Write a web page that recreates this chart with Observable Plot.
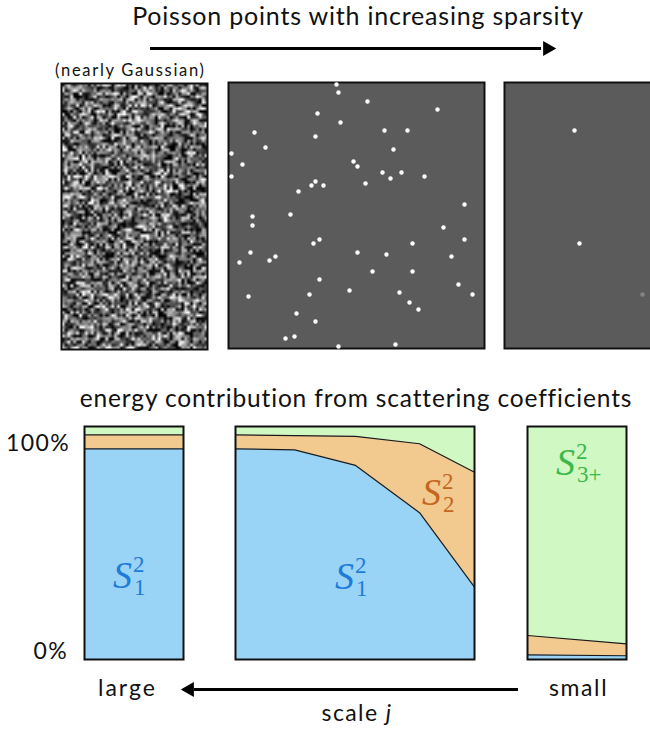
<!DOCTYPE html>
<html><head><meta charset="utf-8">
<script src="https://cdn.jsdelivr.net/npm/d3@7"></script>
<script src="https://cdn.jsdelivr.net/npm/@observablehq/plot@0.6"></script>
<style>
body{margin:0;background:#fff;}
#fig{position:relative;width:650px;height:729px;overflow:hidden;font-family:Lato,sans-serif;color:#111;}
.t{position:absolute;white-space:nowrap;line-height:1;}
.m{position:absolute;white-space:nowrap;line-height:1;font-family:"Liberation Serif","DejaVu Serif",serif;}
</style></head><body><div id="fig"></div>
<script>
// ---- texts ----
const TITLE = "Poisson points with increasing sparsity";
const SUBTITLE = "energy contribution from scattering coefficients";
const NOTE = "(nearly Gaussian)";
const yTickLabels = ["100%", "0%"];
const scaleEnds = ["large", "small"];
const scaleTitle = ["scale ", "j"];

// ---- stacked energy shares (percent) ----
const layers = ["S1", "S2", "S3"];
const layerFill = ["#99d3f6", "#f2c98f", "#d0f8c2"];
const layerText = ["#1f7bd8", "#c4661f", "#3ab84a"];

const largeX = [0, 1];
const largeS1 = [90.4, 90.4];
const largeS2 = [6.0, 6.0];

const midX = [0, 0.99, 2.01, 3.08, 4];
const midS1 = [90.4, 90.0, 83.3, 63.0, 31.1];
const midS2 = [6.0, 6.1, 12.5, 29.6, 49.3];

const smallX = [0, 1];
const smallS1 = [2.0, 1.6];
const smallS2 = [8.3, 5.1];

// ---- Poisson point positions (panel units) ----
const denseX = [108,110,139,209,89,112,26,156,179,87,37,3,165,14,125,129,3,154,173,196,87,83,95,137,162,70,236,62,24,24,215,236,91,85,184,22,47,41,11,129,158,223,144,184,91,230,121,81,171,244,20,181,190,68,87,66,57,110,167];
const denseY = [2,10,19,27,31,40,50,48,48,54,65,71,67,82,79,84,94,90,90,94,99,103,103,101,96,109,122,132,134,143,145,157,157,161,161,170,174,178,180,170,172,174,189,189,197,202,208,212,210,212,214,220,227,231,239,254,256,264,262];
const sparseX = [70, 75, 138];
const sparseY = [48, 161, 212];
const sparseA = [1, 1, 0.25];

// ---- near-Gaussian texture (seeded, deterministic) ----
const NW = 50, NH = 90;
const gauss = d3.randomNormal.source(d3.randomLcg(0.1234))(0.38, 0.36);
const noise = Float64Array.from({length: NW * NH}, () => gauss());

const fig = document.getElementById("fig");
function place(node, left, top) {
  node.style.position = "absolute";
  node.style.left = left + "px";
  node.style.top = top + "px";
  node.style.overflow = "visible";
  fig.appendChild(node);
  return node;
}
function text(html, left, top, size, opts = {}) {
  const d = document.createElement("div");
  d.className = opts.cls || "t";
  d.innerHTML = html;
  d.style.left = left + "px";
  d.style.top = top + "px";
  d.style.fontSize = size + "px";
  if (opts.ls) d.style.letterSpacing = opts.ls + "px";
  if (opts.color) d.style.color = opts.color;
  if (opts.italic) d.style.fontStyle = "italic";
  if (opts.anchor === "middle") d.style.transform = "translateX(-50%)";
  if (opts.anchor === "end") d.style.transform = "translateX(-100%)";
  fig.appendChild(d);
  return d;
}

// titles
text(TITLE, 358, 2.5, 25, {anchor: "middle", ls: 0.8});
text(NOTE, 55, 62, 16.5, {ls: 1.7});
text(SUBTITLE, 356, 385.6, 24.5, {anchor: "middle", ls: 0.85});

// arrows
function arrow(width, dir) {
  return Plot.plot({
    width, height: 20, margin: 0, marginLeft: dir < 0 ? 9 : 0, marginRight: dir > 0 ? 9 : 0,
    x: {domain: [0, 1], axis: null, reverse: dir < 0}, y: {domain: [-1, 1], axis: null},
    marks: [
      Plot.ruleY([0], {x1: 0, x2: 0.985, strokeWidth: 3, stroke: "#000"}),
      Plot.dot([1], {x: d => d, y: 0, symbol: "triangle", r: 5.6, rotate: dir > 0 ? 90 : -90, fill: "#000", stroke: "none"})
    ]
  });
}
place(arrow(406, 1), 150, 38);
place(arrow(338, -1), 180, 679);

// noise panel
place(Plot.plot({
  width: 146, height: 266, margin: 0,
  x: {domain: [0, NW], axis: null}, y: {domain: [0, NH], axis: null},
  color: {type: "linear", domain: [0, 1], range: ["#000", "#fff"], clamp: true},
  marks: [
    Plot.raster(noise, {width: NW, height: NH, x1: 0, x2: NW, y1: 0, y2: NH, fill: d => d}),
    Plot.frame({stroke: "#111", strokeWidth: 2})
  ]
}), 61, 83);

// point panels
function pointPanel(xs, ys, alpha, w) {
  const pts = xs.map((x, i) => ({x, y: ys[i], a: alpha ? alpha[i] : 1}));
  return Plot.plot({
    width: w, height: 266, margin: 0,
    x: {domain: [0, w], axis: null}, y: {domain: [0, 266], reverse: true, axis: null},
    marks: [
      Plot.frame({fill: "#5b5b5b", stroke: "#111", strokeWidth: 2}),
      Plot.dot(pts, {x: "x", y: "y", r: 2.2, fill: "#fff", fillOpacity: "a", stroke: "none"})
    ]
  });
}
place(pointPanel(denseX, denseY, null, 256), 228, 82);
place(pointPanel(sparseX, sparseY, sparseA, 160), 504, 82);

// energy panels
function energyPanel(xs, s1, s2, w) {
  const rows = [];
  xs.forEach((x, i) => {
    rows.push({x, layer: "S1", v: s1[i]}, {x, layer: "S2", v: s2[i]}, {x, layer: "S3", v: 100 - s1[i] - s2[i]});
  });
  return Plot.plot({
    width: w, height: 233, margin: 0,
    x: {domain: [xs[0], xs[xs.length - 1]], axis: null},
    y: {domain: [0, 100], axis: null},
    color: {domain: layers, range: layerFill},
    marks: [
      Plot.areaY(rows, {x: "x", y: "v", z: "layer", fill: "layer"}),
      Plot.lineY(rows.filter(d => d.layer !== "S3"), Plot.stackY2({x: "x", y: "v", z: "layer", stroke: "#1a1a1a", strokeWidth: 1.2})),
      Plot.frame({stroke: "#111", strokeWidth: 2})
    ]
  });
}
place(energyPanel(largeX, largeS1, largeS2, 99), 84, 426);
place(energyPanel(midX, midS1, midS2, 239), 235, 426);
place(energyPanel(smallX, smallS1, smallS2, 99), 527, 426);

// math labels S_sub^sup
function mathLabel(sub, sup, color, left, capTop) {
  const S = 38, s = 23;
  text("S", left, capTop - 0.175 * S, S, {cls: "m", color, italic: true});
  text(sup, left + 20, capTop - 6 - 0.175 * s, s, {cls: "m", color});
  text(sub, left + 21, capTop + 17 - 0.175 * s, s, {cls: "m", color});
}
mathLabel("1", "2", layerText[0], 113, 563);
mathLabel("1", "2", layerText[0], 335, 564);
mathLabel("2", "2", layerText[1], 422, 480);
mathLabel("3+", "2", layerText[2], 556, 450);

// y labels
text(yTickLabels[0], 70, 431.2, 23, {anchor: "end", ls: 1.4});
text(yTickLabels[1], 68, 638.5, 23, {anchor: "end", ls: 1.4});

// scale labels
text(scaleEnds[0], 98, 676, 23, {ls: 2});
text(scaleEnds[1], 549, 676, 23, {ls: 1.6});
text(scaleTitle[0] + "<i>" + scaleTitle[1] + "</i>", 357, 701, 23, {anchor: "middle", ls: 1.4});
</script></body></html>
